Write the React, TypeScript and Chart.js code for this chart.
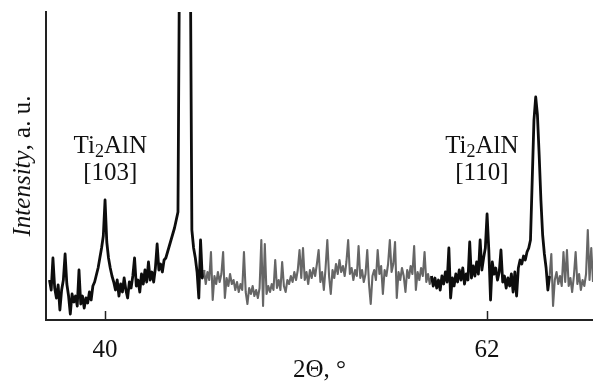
import React, { useEffect, useRef } from 'react';
import { Chart, registerables } from 'chart.js';

Chart.register(...registerables);

// ---- data ----
const SCAN_START = 36.8; // 2θ of first sample, degrees
const SCAN_STEP = 0.1; // scan step, degrees

const intensity = [
  40, 30, 62, 32, 22, 35, 10, 30, 40, 66,
  36, 24, 6, 26, 18, 24, 14, 50, 16, 24,
  12, 22, 17, 28, 20, 34, 38, 45, 52, 62,
  72, 84, 120, 78, 62, 52, 44, 38, 30, 40,
  24, 36, 28, 42, 30, 22, 38, 32, 44, 62,
  34, 40, 28, 46, 36, 50, 38, 58, 40, 48,
  38, 52, 76, 50, 56, 48, 60, 62, 68, 74,
  80, 86, 92, 100, 108, 400, 500, 520, 500, 480,
  450, 400, 90, 72, 62, 48, 22, 80, 42, 50,
  36, 48, 40, 68, 20, 44, 36, 48, 38, 46,
  68, 22, 42, 34, 46, 36, 40, 30, 38, 28,
  36, 30, 68, 28, 16, 32, 26, 34, 24, 30,
  22, 32, 80, 14, 76, 26, 34, 28, 36, 30,
  60, 32, 40, 30, 58, 34, 28, 40, 36, 44,
  38, 48, 40, 50, 70, 42, 72, 40, 48, 36,
  50, 42, 52, 44, 56, 70, 38, 48, 30, 52,
  80, 44, 26, 50, 42, 56, 46, 60, 48, 54,
  44, 58, 80, 46, 52, 40, 50, 44, 74, 42,
  50, 38, 46, 70, 36, 16, 44, 50, 40, 70,
  46, 54, 26, 50, 44, 56, 80, 48, 56, 78,
  22, 48, 40, 52, 44, 28, 50, 42, 54, 46,
  74, 30, 48, 40, 52, 44, 68, 38, 46, 36,
  44, 34, 42, 32, 40, 30, 44, 36, 48, 38,
  72, 22, 42, 34, 46, 38, 50, 40, 52, 36,
  46, 40, 78, 42, 54, 44, 58, 46, 80, 50,
  62, 72, 106, 70, 20, 58, 46, 52, 40, 48,
  70, 38, 44, 32, 42, 34, 46, 28, 48, 24,
  52, 60, 56, 64, 60, 68, 72, 80, 140, 200,
  223, 205, 165, 120, 85, 66, 52, 30, 44, 66,
  14, 40, 48, 36, 44, 34, 68, 38, 70, 34,
  42, 28, 44, 68, 36, 46, 30, 40, 34, 46,
  90, 40, 72, 38, 44,
];

const X_MIN = 36.6;
const X_MAX = 68.1;
const Y_MIN = 0;
const Y_MAX = 308;

const xTickValues = [40, 62];
const xAxisTitle = '2Θ, °';
const yTitleItalic = 'Intensity';
const yTitleRegular = ', a. u.';

const peakLabelAngles = [40.3, 61.7];
const peakPhase = ['Ti', '2', 'AlN'];
const peakIndices = ['[103]', '[110]'];

// grey (lighter) stretches of the trace, in degrees
const lightRanges = [
  [45.6, 58.8],
  [65.5, 70],
];

const SERIF = "'Liberation Serif', 'Times New Roman', serif";

const decorPlugin = {
  id: 'decor',
  afterDraw(chart: any) {
    const { ctx, chartArea, scales } = chart;
    const xs = scales.x;
    ctx.save();
    // inward tick marks
    ctx.strokeStyle = '#222';
    ctx.lineWidth = 1.5;
    xTickValues.forEach((v) => {
      const px = Math.round(xs.getPixelForValue(v)) + 0.5;
      ctx.beginPath();
      ctx.moveTo(px, chartArea.bottom - 9);
      ctx.lineTo(px, chartArea.bottom);
      ctx.stroke();
    });

    // peak labels
    ctx.fillStyle = '#111';
    ctx.textBaseline = 'alphabetic';
    peakLabelAngles.forEach((a, i) => {
      const cx = xs.getPixelForValue(a);
      const y1 = chartArea.top + 141;
      ctx.font = `25px ${SERIF}`;
      const w0 = ctx.measureText(peakPhase[0]).width;
      const w2 = ctx.measureText(peakPhase[2]).width;
      ctx.font = `18px ${SERIF}`;
      const w1 = ctx.measureText(peakPhase[1]).width;
      let sx = cx - (w0 + w1 + w2) / 2;
      ctx.textAlign = 'left';
      ctx.font = `25px ${SERIF}`;
      ctx.fillText(peakPhase[0], sx, y1);
      sx += w0;
      ctx.font = `18px ${SERIF}`;
      ctx.fillText(peakPhase[1], sx, y1 + 4);
      sx += w1;
      ctx.font = `25px ${SERIF}`;
      ctx.fillText(peakPhase[2], sx, y1);
      ctx.textAlign = 'center';
      ctx.fillText(peakIndices[i], cx, y1 + 27);
    });

    // y axis title (mixed italic / regular)
    ctx.translate(chartArea.left - 16, (chartArea.top + chartArea.bottom) / 2);
    ctx.rotate(-Math.PI / 2);
    ctx.textAlign = 'left';
    ctx.font = `italic 25px ${SERIF}`;
    const wi = ctx.measureText(yTitleItalic).width;
    ctx.font = `25px ${SERIF}`;
    const wr = ctx.measureText(yTitleRegular).width;
    const start = -(wi + wr) / 2;
    ctx.font = `italic 25px ${SERIF}`;
    ctx.fillText(yTitleItalic, start, 0);
    ctx.font = `25px ${SERIF}`;
    ctx.fillText(yTitleRegular, start + wi, 0);
    ctx.restore();
  },
};

export default function App() {
  const canvasRef = useRef<HTMLCanvasElement | null>(null);

  useEffect(() => {
    document.body.style.margin = '0';
    const canvas = canvasRef.current;
    if (!canvas) return;
    const points = intensity.map((v, i) => ({
      x: +(SCAN_START + i * SCAN_STEP).toFixed(2),
      y: v,
    }));
    const isLight = (x: number) => lightRanges.some(([a, b]) => x > a && x < b);

    const chart = new Chart(canvas, {
      type: 'line',
      data: {
        datasets: [
          {
            data: points,
            borderColor: '#111',
            borderWidth: 2.8,
            borderJoinStyle: 'round',
            pointRadius: 0,
            tension: 0,
            segment: {
              borderColor: (c: any) => (isLight(c.p0.parsed.x) ? '#666' : '#0d0d0d'),
              borderWidth: (c: any) => (isLight(c.p0.parsed.x) ? 2.1 : 2.8),
            },
          },
        ],
      },
      options: {
        responsive: false,
        animation: false,
        devicePixelRatio: 1,
        layout: { padding: { top: 12, left: 0, right: 0, bottom: 0 } },
        plugins: {
          legend: { display: false },
          tooltip: { enabled: false },
        },
        scales: {
          x: {
            type: 'linear',
            min: X_MIN,
            max: X_MAX,
            afterBuildTicks: (scale: any) => {
              scale.ticks = xTickValues.map((v) => ({ value: v }));
            },
            afterFit: (scale: any) => {
              scale.height = 63;
            },
            grid: { display: false },
            border: { display: true, color: '#222', width: 2 },
            ticks: {
              autoSkip: false,
              maxRotation: 0,
              padding: 7,
              color: '#111',
              font: { family: SERIF, size: 25 },
              callback: (v: any) => String(v),
            },
            title: {
              display: true,
              text: xAxisTitle,
              color: '#111',
              font: { family: SERIF, size: 25, lineHeight: 1 },
              padding: { top: 0, bottom: 0 },
            },
          },
          y: {
            type: 'linear',
            min: Y_MIN,
            max: Y_MAX,
            afterFit: (scale: any) => {
              scale.width = 46;
            },
            grid: { display: false },
            border: { display: true, color: '#222', width: 2 },
            ticks: { display: false },
          },
        },
      },
      plugins: [decorPlugin],
    });
    return () => chart.destroy();
  }, []);

  return (
    <div style={{ position: 'fixed', left: 0, top: 0, width: 593, height: 383, background: '#fff' }}>
      <canvas ref={canvasRef} width={593} height={383} />
    </div>
  );
}
